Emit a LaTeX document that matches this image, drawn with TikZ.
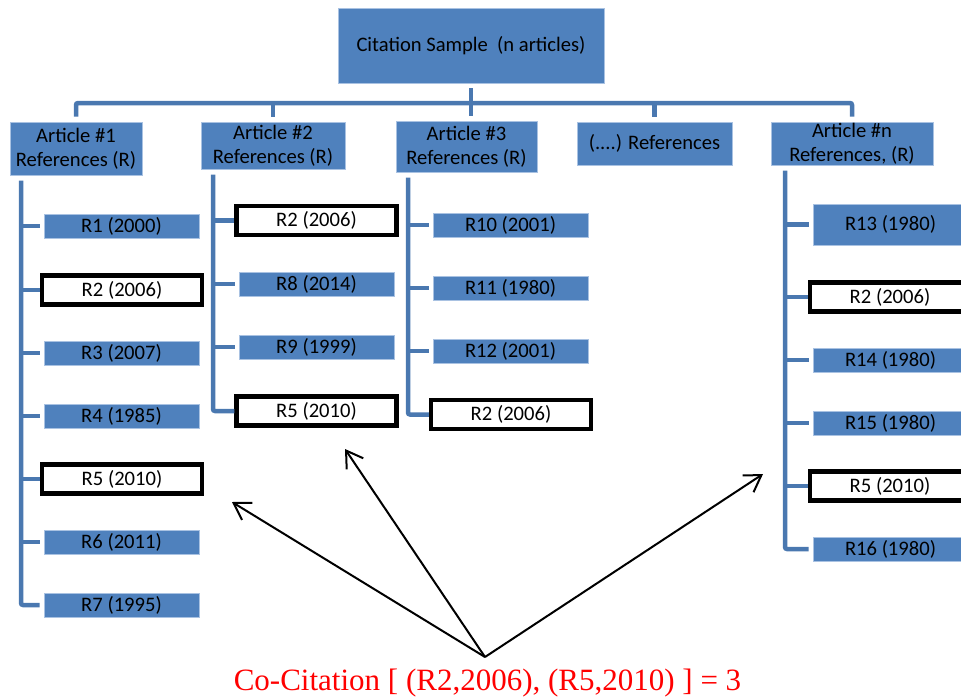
\documentclass[tikz,border=0pt]{standalone}
\usepackage{fontspec}
\setsansfont{Carlito}
\newfontfamily\redserif{Liberation Serif}
\usetikzlibrary{arrows.meta}
\definecolor{boxblue}{HTML}{4F81BD}
\definecolor{lineblue}{HTML}{4A78B0}
\definecolor{edgeblue}{HTML}{A9C2E2}
\definecolor{cored}{HTML}{FF0000}
\tikzset{
  x=1pt, y=1pt,
  every node/.style={font=\sffamily\fontsize{20.6}{24}\selectfont, inner sep=0pt},
  topbox/.style={fill=boxblue, draw=edgeblue, line width=0.8pt, minimum width=266, minimum height=75, outer ysep=5pt},
  artbox/.style={fill=boxblue, draw=edgeblue, line width=0.8pt, align=center, outer ysep=5.5pt},
  refbox/.style={fill=boxblue, draw=edgeblue, line width=0.8pt, minimum width=155, minimum height=24, outer xsep=4.5pt},
  hlbox/.style={fill=white, draw=black, line width=4.2pt, minimum width=160, minimum height=29},
  tree/.style={draw=lineblue, line width=4.5pt, rounded corners=2pt},
  pointer/.style={draw=black, line width=2pt, -{Straight Barb[length=16pt,width=20pt,line width=2pt]}}
}
\begin{document}
\begin{tikzpicture}
\useasboundingbox (0,0) rectangle (961,-697);
\clip (0,0) rectangle (961,-697);

% top
\node[topbox] (top) at (471,-45.5) {Citation Sample\ \ (n articles)};

% articles
\node[artbox, minimum width=132, minimum height=53] (a1) at (76,-148.5) {Article \#1\\References (R)};
\node[artbox, minimum width=144, minimum height=47] (a2) at (273,-145.5) {Article \#2\\References (R)};
\node[artbox, minimum width=141, minimum height=51] (a3) at (466.5,-146.5) {Article \#3\\References (R)};
\node[artbox, minimum width=155, minimum height=43] (ar) at (654.5,-143.5) {(....) References};
\node[artbox, minimum width=162, minimum height=43] (an) at (852,-143.5) {Article \#n\\References, (R)};

% bus
\coordinate (bus) at (0,-103);
\draw[tree] (a1.north) -- (a1.north |- bus) -- (an.north |- bus) -- (an.north);
\draw[tree] (top.south) -- (top.south |- a3.north);
\draw[tree] (a2.north) -- (a2.north |- bus);
\draw[tree] (ar.north) -- (ar.north |- bus);

% column 1
\node[refbox] (r1) at (121.5,-226) {R1 (2000)};
\node[hlbox]  (r2a) at (122,-290) {R2 (2006)};
\node[refbox] (r3) at (121.5,-353) {R3 (2007)};
\node[refbox] (r4) at (121.5,-416) {R4 (1985)};
\node[hlbox]  (r5a) at (122,-479) {R5 (2010)};
\node[refbox] (r6) at (121.5,-542) {R6 (2011)};
\node[refbox] (r7) at (121.5,-605) {R7 (1995)};
\coordinate (c1) at (21,0);
\draw[tree] (a1.south -| c1) |- (r7.west);
\foreach \n in {r1,r2a,r3,r4,r5a,r6} \draw[tree, rounded corners=0pt] (\n.west -| c1) -- (\n.west);

% column 2
\node[hlbox]  (r2b) at (316.5,-220.5) {R2 (2006)};
\node[refbox] (r8) at (316.5,-284) {R8 (2014)};
\node[refbox] (r9) at (316.5,-347) {R9 (1999)};
\node[hlbox]  (r5b) at (316.5,-411) {R5 (2010)};
\coordinate (c2) at (213,0);
\draw[tree] (a2.south -| c2) |- (r5b.west);
\foreach \n in {r2b,r8,r9} \draw[tree, rounded corners=0pt] (\n.west -| c2) -- (\n.west);

% column 3
\node[refbox] (r10) at (510.5,-225) {R10 (2001)};
\node[refbox] (r11) at (510.5,-288) {R11 (1980)};
\node[refbox] (r12) at (510.5,-351) {R12 (2001)};
\node[hlbox]  (r2c) at (511,-414.5) {R2 (2006)};
\coordinate (c3) at (408,0);
\draw[tree] (a3.south -| c3) |- (r2c.west);
\foreach \n in {r10,r11,r12} \draw[tree, rounded corners=0pt] (\n.west -| c3) -- (\n.west);

% column n
\node[refbox, minimum height=41] (r13) at (890.5,-224.5) {R13 (1980)};
\node[hlbox]  (r2d) at (890,-297) {R2 (2006)};
\node[refbox] (r14) at (890.5,-360) {R14 (1980)};
\node[refbox] (r15) at (890.5,-423) {R15 (1980)};
\node[hlbox]  (r5d) at (890,-486) {R5 (2010)};
\node[refbox] (r16) at (890.5,-549) {R16 (1980)};
\coordinate (cn) at (785,0);
\draw[tree] (an.south -| cn) |- (r16.west);
\foreach \n in {r13,r2d,r14,r15,r5d} \draw[tree, rounded corners=0pt] (\n.west -| cn) -- (\n.west);

% co-citation arrows
\coordinate (apex) at (485,-657);
\coordinate (t1) at (232,-502);
\coordinate (t2) at (345,-449);
\coordinate (t3) at (763,-474);
\draw[pointer] (apex) -- (t1);
\draw[pointer] (apex) -- (t2);
\draw[pointer] (apex) -- (t3);

\node[anchor=base, text=cored, font=\redserif\fontsize{31}{36}\selectfont] (cc) at (487.5,-690) {Co-Citation [ (R2,2006), (R5,2010) ] = 3};
\end{tikzpicture}
\end{document}
